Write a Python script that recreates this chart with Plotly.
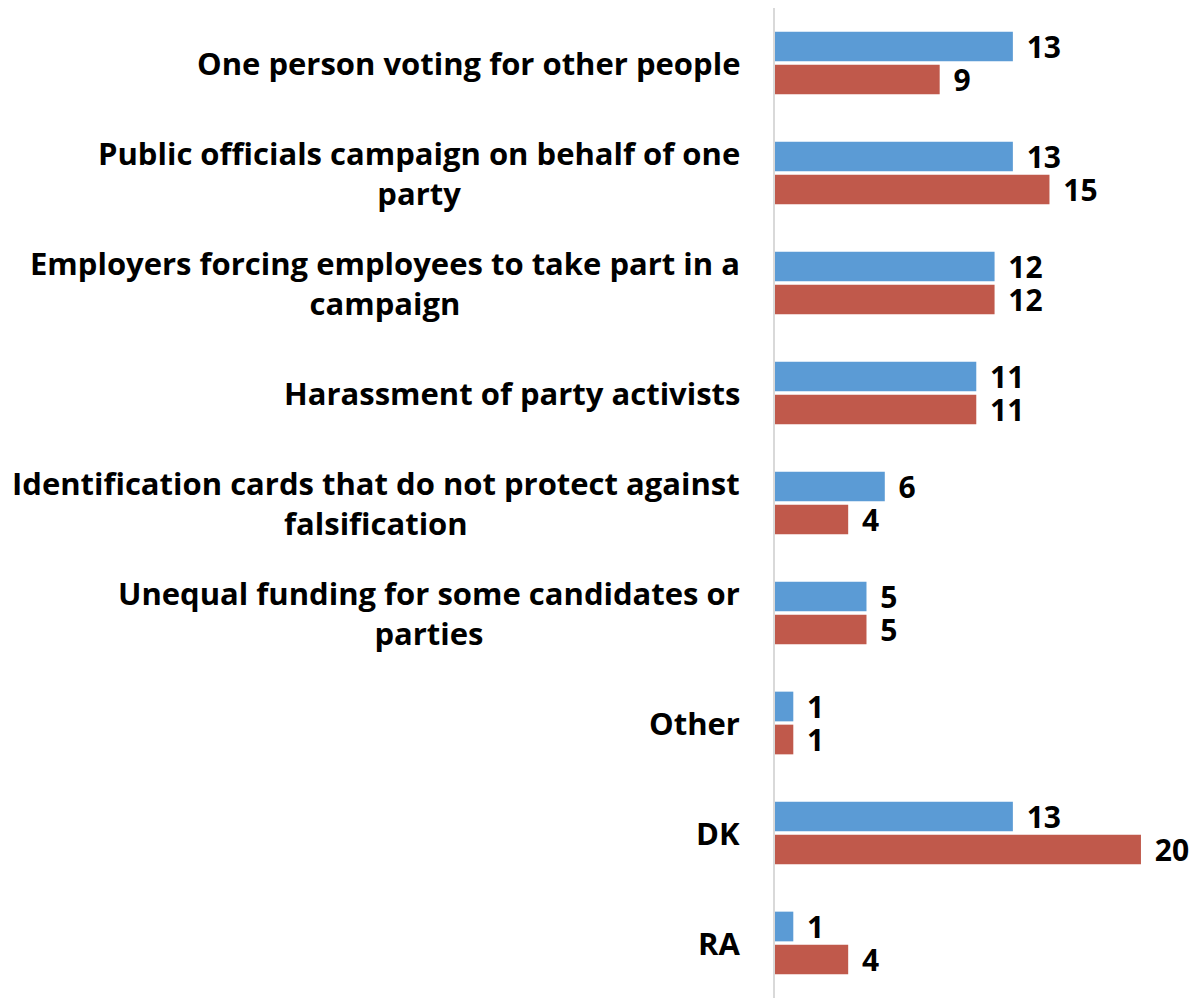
import plotly.graph_objects as go

categories = [
    "One person voting for other people",
    "Public officials campaign on behalf of one<br>party",
    "Employers forcing employees to take part in a<br>campaign",
    "Harassment of party activists",
    "Identification cards that do not protect against<br>falsification",
    "Unequal funding for some candidates or<br>parties",
    "Other",
    "DK",
    "RA",
]
blue_vals = [13, 13, 12, 11, 6, 5, 1, 13, 1]
red_vals = [9, 15, 12, 11, 4, 5, 1, 20, 4]

BLUE = "#5B9BD5"
RED = "#C0594B"
FONT = "Open Sans"

fig = go.Figure()
for name, vals, color in [("blue", blue_vals, BLUE), ("red", red_vals, RED)]:
    fig.add_trace(go.Bar(
        y=categories, x=vals, orientation="h", name=name,
        marker=dict(color=color, line=dict(width=0)),
        text=vals, texttemplate=" \u200a%{x}", textposition="outside",
        constraintext="none",
        textfont=dict(family=FONT, size=30, color="black", weight="bold"),
        cliponaxis=False,
    ))

# category labels as annotations so wrapped lines are centred
for c in categories:
    fig.add_annotation(
        x=0, y=c, xref="x", yref="y", text=c, showarrow=False,
        xanchor="right", yanchor="middle", align="center", xshift=-33,
        font=dict(family=FONT, size=31, color="black", weight="bold"),
    )

# page body adds 8px offset, so margins are set relative to that
fig.update_layout(
    width=1197, height=999,
    margin=dict(l=767, r=0, t=0, b=9),
    barmode="group", bargap=0.4, bargroupgap=0.1,
    plot_bgcolor="white", paper_bgcolor="white",
    showlegend=False,
)
fig.update_xaxes(range=[0, 23.5], visible=False)
fig.update_yaxes(autorange="reversed", showticklabels=False, ticks="",
                 showline=True, linecolor="#D9D9D9", linewidth=2,
                 showgrid=False, zeroline=False)

fig.write_html("out.html")
